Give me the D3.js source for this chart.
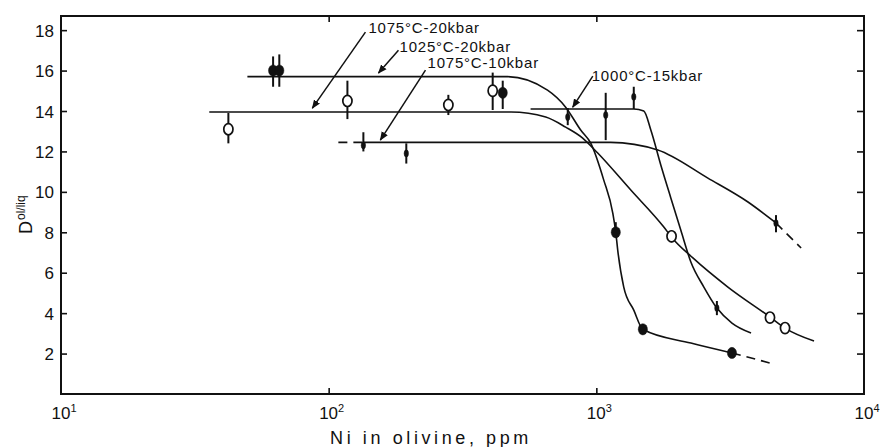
<!DOCTYPE html>
<html>
<head>
<meta charset="utf-8">
<script src="https://cdn.jsdelivr.net/npm/d3@7"></script>
<style>
    body {margin: 0; background: #fff;}
    svg {display: block;}
    text {font-family: "Liberation Sans", Arial, sans-serif; fill: #111;}
</style>
</head>
<body>
<div id="wrapper"></div>
<script>
// axis ticks
const ppmTicks = [10, 100, 1000, 10000]
const tickExponents = ["1", "2", "3", "4"]
const dTicks = [2, 4, 6, 8, 10, 12, 14, 16, 18]

// measured points: [Ni ppm, D, lower, upper]
const points1025 = [[62, 16.0, 15.2, 16.7], [65.4, 16.0, 15.2, 16.8], [447, 14.9, 14.1, 15.5],
    [1182, 8.0, 7.75, 8.5], [1492, 3.2, 3.0, 3.4], [3211, 2.03, 1.9, 2.15]]
const points1075hi = [[42.2, 13.1, 12.4, 13.9], [117.5, 14.5, 13.6, 15.5], [280, 14.3, 13.8, 14.8],
    [410, 15.0, 14.05, 15.9], [1910, 7.8, 7.5, 8.1], [4454, 3.78, 3.5, 4.05], [5070, 3.26, 3.0, 3.5]]
const points1075lo = [[134.8, 12.3, 12.0, 12.95], [195, 11.9, 11.4, 12.4], [4690, 8.45, 8.0, 8.85]]
const points1000 = [[782, 13.7, 13.3, 14.15], [1084, 13.8, 12.56, 14.9], [1380, 14.7, 14.1, 15.2],
    [2821, 4.25, 3.9, 4.6]]

// drawn curves: [Ni ppm, D]
const curve1025 = [[49.7, 15.7], [466, 15.7], [657, 15.03], [768, 14.19], [874, 13.06], [953, 12.41],
    [1066, 10.58], [1152, 8.95], [1182, 8.0], [1202, 7.12], [1266, 5.29], [1380, 4.15], [1492, 3.2],
    [2255, 2.52], [3211, 2.03]]
const tail1025 = [[3211, 2.03], [4613, 1.48]]
const curve1075hi = [[35.8, 13.95], [480, 13.95], [647, 13.7], [768, 13.2], [889, 12.66], [1012, 11.92],
    [1345, 10.09], [1787, 8.26], [1910, 7.76], [2295, 6.73], [3101, 5.29], [4454, 3.81], [5070, 3.26],
    [6505, 2.62]]
const curve1075lo = [[134.8, 12.45], [1132, 12.45], [1697, 12.07], [2611, 10.68], [3686, 9.5], [4690, 8.46]]
const head1075lo = [[108.7, 12.45], [134.8, 12.45]]
const tail1075lo = [[4690, 8.46], [5822, 7.22]]
const curve1000 = [[568, 14.1], [1380, 14.1], [1504, 14.0], [1598, 13.06], [1741, 11.33], [1898, 9.7],
    [2069, 8.1], [2255, 6.53], [2522, 5.29], [2821, 4.25], [3211, 3.51], [3784, 3.02]]

// annotations
const labelNames = ["1075°C-20kbar", "1025°C-20kbar", "1075°C-10kbar", "1000°C-15kbar"]
const labelAt = [[140.8, 17.85], [183.9, 16.91], [234, 16.12], [961, 15.48]]
const arrowFrom = [[137.2, 17.9], [182.3, 17.01], [230, 16.02], [970, 15.73]]
const arrowTo = [[86.9, 14.14], [153.5, 15.88], [156, 12.56], [816, 14.19]]

function drawChart() {
    const dimensions = {
        width: 881,
        height: 447,
        margin: {top: 16, right: 17, bottom: 53, left: 61},
    }
    dimensions.boundedWidth = dimensions.width - dimensions.margin.left - dimensions.margin.right
    dimensions.boundedHeight = dimensions.height - dimensions.margin.top - dimensions.margin.bottom

    const svg = d3.select("#wrapper").append("svg")
        .attr("width", dimensions.width)
        .attr("height", dimensions.height)
    svg.append("defs").append("marker")
        .attr("id", "arrow")
        .attr("viewBox", "0 0 10 10")
        .attr("refX", 9).attr("refY", 5)
        .attr("markerWidth", 9).attr("markerHeight", 9)
        .attr("markerUnits", "userSpaceOnUse")
        .attr("orient", "auto")
        .append("path")
        .attr("d", "M0,1 L10,5 L0,9 Z")
        .attr("fill", "#111")

    const bounds = svg.append("g")
        .attr("transform", `translate(${dimensions.margin.left},${dimensions.margin.top})`)

    const xScale = d3.scaleLog().domain([10, 10000]).range([0, dimensions.boundedWidth])
    const yScale = d3.scaleLinear().domain([0, 18.7]).range([dimensions.boundedHeight, 0])

    drawAxes(bounds, xScale, yScale, dimensions, svg)
    drawCurves(bounds, xScale, yScale)
    drawPoints(bounds, xScale, yScale)
    drawLabels(bounds, xScale, yScale)
}

function drawAxes(bounds, xScale, yScale, dimensions, svg) {
    const w = dimensions.boundedWidth, h = dimensions.boundedHeight
    const tidy = g => {
        g.select(".domain").remove()
        g.selectAll(".tick line").attr("stroke", "#111").attr("stroke-width", 1.6)
        g.selectAll("text").attr("font-size", 17).attr("font-family", "Liberation Sans, Arial, sans-serif")
    }
    bounds.append("g")
        .call(d3.axisLeft(yScale).tickValues(dTicks).tickSize(-6).tickPadding(7))
        .call(tidy)
        .selectAll("text").attr("dy", "0.36em")
    bounds.append("g")
        .attr("transform", `translate(${w},0)`)
        .call(d3.axisRight(yScale).tickValues(dTicks).tickSize(-7).tickFormat(""))
        .call(tidy)
    bounds.append("g")
        .attr("transform", `translate(0,${h})`)
        .call(d3.axisBottom(xScale).tickValues([100, 1000]).tickSize(-6).tickFormat(""))
        .call(tidy)
    bounds.append("g")
        .call(d3.axisTop(xScale).tickValues([100, 1000]).tickSize(-6).tickFormat(""))
        .call(tidy)

    bounds.append("rect")
        .attr("width", w).attr("height", h)
        .attr("fill", "none").attr("stroke", "#111").attr("stroke-width", 2)

    const xLabels = bounds.selectAll(".xlab")
        .data(ppmTicks)
        .join("text")
        .attr("class", "xlab")
        .attr("x", d => xScale(d) - 9.5)
        .attr("y", h + 25)
        .attr("font-size", 17)
    xLabels.append("tspan").text("10")
    xLabels.append("tspan").text((d, i) => tickExponents[i])
        .attr("font-size", 11).attr("dy", -7)

    svg.append("text")
        .attr("x", 431)
        .attr("y", dimensions.height - 3)
        .attr("text-anchor", "middle")
        .attr("font-size", 18)
        .attr("letter-spacing", 3.6)
        .text("Ni in olivine, ppm")

    const yLab = svg.append("text")
        .attr("transform", `translate(32,234) rotate(-90)`)
        .attr("font-size", 18)
    yLab.append("tspan").text("D")
    yLab.append("tspan").text("ol/liq").attr("font-size", 12).attr("dy", -7).attr("dx", 1)
}

function drawCurves(bounds, xScale, yScale) {
    const line = d3.line()
        .x(d => xScale(d[0]))
        .y(d => yScale(d[1]))
        .curve(d3.curveMonotoneX)
    const solid = [curve1025, curve1075hi, curve1075lo, curve1000]
    const dashed = [tail1025, head1075lo, tail1075lo]
    bounds.selectAll(".curve")
        .data(solid)
        .join("path")
        .attr("class", "curve")
        .attr("d", line)
        .attr("fill", "none")
        .attr("stroke", "#111")
        .attr("stroke-width", 1.6)
    bounds.selectAll(".tail")
        .data(dashed)
        .join("path")
        .attr("class", "tail")
        .attr("d", d3.line().x(d => xScale(d[0])).y(d => yScale(d[1])))
        .attr("fill", "none")
        .attr("stroke", "#111")
        .attr("stroke-width", 1.6)
        .attr("stroke-dasharray", "9 6")
}

function drawPoints(bounds, xScale, yScale) {
    const groups = [
        {data: points1025, kind: "filled"},
        {data: points1075hi, kind: "open"},
        {data: points1075lo, kind: "small"},
        {data: points1000, kind: "small"},
    ]
    groups.forEach(group => {
        const g = bounds.append("g")
        g.selectAll("line")
            .data(group.data)
            .join("line")
            .attr("x1", d => xScale(d[0])).attr("x2", d => xScale(d[0]))
            .attr("y1", d => yScale(d[2])).attr("y2", d => yScale(d[3]))
            .attr("stroke", "#111")
            .attr("stroke-width", 2)
        g.selectAll("ellipse")
            .data(group.data)
            .join("ellipse")
            .attr("cx", d => xScale(d[0]))
            .attr("cy", d => yScale(d[1]))
            .attr("rx", group.kind === "small" ? 2.2 : 4.6)
            .attr("ry", group.kind === "small" ? 3.6 : 5.6)
            .attr("fill", group.kind === "open" ? "#fff" : "#111")
            .attr("stroke", "#111")
            .attr("stroke-width", group.kind === "open" ? 1.7 : 0.5)
    })
}

function drawLabels(bounds, xScale, yScale) {
    bounds.selectAll(".arrow")
        .data(arrowFrom)
        .join("line")
        .attr("class", "arrow")
        .attr("x1", d => xScale(d[0])).attr("y1", d => yScale(d[1]))
        .attr("x2", (d, i) => xScale(arrowTo[i][0])).attr("y2", (d, i) => yScale(arrowTo[i][1]))
        .attr("stroke", "#111")
        .attr("stroke-width", 1.5)
        .attr("marker-end", "url(#arrow)")
    bounds.selectAll(".note")
        .data(labelNames)
        .join("text")
        .attr("class", "note")
        .attr("x", (d, i) => xScale(labelAt[i][0]))
        .attr("y", (d, i) => yScale(labelAt[i][1]))
        .attr("font-size", 15)
        .attr("letter-spacing", 0.8)
        .text(d => d)
}

drawChart()
</script>
</body>
</html>
